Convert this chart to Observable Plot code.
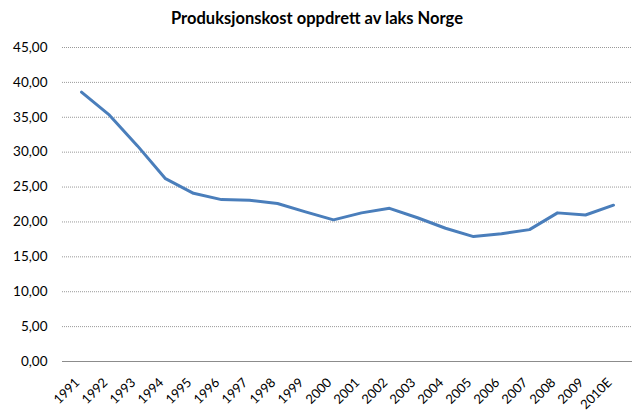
<!DOCTYPE html>
<html>
<head>
<meta charset="utf-8">
<script src="https://cdn.jsdelivr.net/npm/d3@7"></script>
<script src="https://cdn.jsdelivr.net/npm/@observablehq/plot@0.6"></script>
<style>
  html, body { margin: 0; padding: 0; background: #fff; }
  #wrap { width: 634px; height: 414px; font-family: Lato, "Open Sans", sans-serif; }
  #title { height: 36px; line-height: 36px; text-align: center; font-weight: bold; font-size: 16.5px; color: #000; }
</style>
</head>
<body>
<div id="wrap">
  <div id="title">Produksjonskost oppdrett av laks Norge</div>
  <div id="chart"></div>
</div>
<script>
const years = ["1991","1992","1993","1994","1995","1996","1997","1998","1999","2000",
               "2001","2002","2003","2004","2005","2006","2007","2008","2009","2010E"];
const cost = [38.6, 35.3, 30.9, 26.2, 24.1, 23.2, 23.1, 22.65, 21.45, 20.3,
              21.3, 21.95, 20.6, 19.1, 17.9, 18.3, 18.9, 21.3, 21.0, 22.4];
const yTicks = [0, 5, 10, 15, 20, 25, 30, 35, 40, 45];

const data = years.map((y, i) => ({year: y, value: cost[i]}));
const fmt = v => v.toFixed(2).replace(".", ",");

const chart = Plot.plot({
  width: 634,
  height: 378,
  marginTop: 11,
  marginBottom: 53,
  marginLeft: 62,
  marginRight: 2,
  style: {fontFamily: "Lato, 'Open Sans', sans-serif", fontSize: "13px", color: "#000", background: "#fff"},
  x: {type: "point", domain: years, padding: 0.5, label: null},
  y: {domain: [0, 45], label: null},
  marks: [
    Plot.ruleY(yTicks.filter(d => d > 0), {stroke: "#999", strokeWidth: 1, strokeDasharray: "1,1"}),
    Plot.ruleY([0], {stroke: "#8c8c8c", strokeWidth: 1}),
    Plot.axisY({ticks: yTicks, tickFormat: fmt, tickSize: 0, tickPadding: 15, fontSize: 13.5}),
    Plot.axisX({tickSize: 0, tickRotate: -45, tickPadding: 8, dy: 11, dx: -4, fontSize: 13}),
    Plot.line(data, {x: "year", y: "value", stroke: "#4a7ebb", strokeWidth: 3, strokeLinejoin: "round", strokeLinecap: "round"})
  ]
});
document.getElementById("chart").appendChild(chart);
</script>
</body>
</html>
